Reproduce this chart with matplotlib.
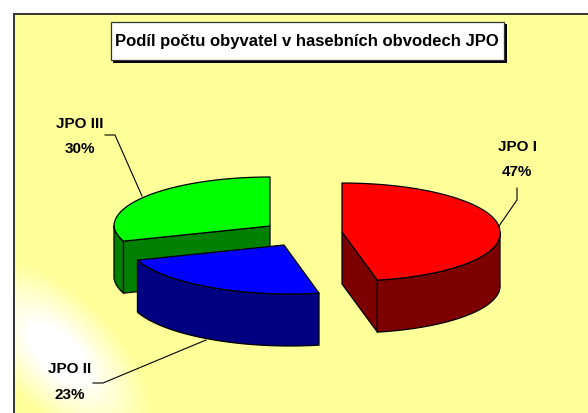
import matplotlib
matplotlib.use('Agg')
import matplotlib.pyplot as plt
import numpy as np
from matplotlib.patches import Polygon, Rectangle

plt.rcParams['font.family'] = ['Liberation Sans', 'DejaVu Sans']

# data
names = ['JPO I', 'JPO II', 'JPO III']
shares = [47, 23, 30]
title = 'Podíl počtu obyvatel v hasebních obvodech JPO'

top_colors = {'JPO I': '#ff0000', 'JPO II': '#0000ff', 'JPO III': '#00ff00'}
wall_colors = {'JPO I': '#7c0000', 'JPO II': '#000080', 'JPO III': '#008000'}
centers = {'JPO I': (342, 233), 'JPO II': (284, 246), 'JPO III': (270, 227)}
radius_x = {'JPO I': 158, 'JPO II': 156, 'JPO III': 156}
radius_y = 49
depth = 52
shear = 0.12

W, H = 588, 414
fig = plt.figure(figsize=(W / 100, H / 100), dpi=100)
ax = fig.add_axes([0, 0, 1, 1])
ax.set_xlim(0, W)
ax.set_ylim(H, 0)
ax.axis('off')

# background with the white diagonal glow bottom left
yy, xx = np.mgrid[0:H, 0:W]
along = ((xx - 58) + (yy - 354)) / np.sqrt(2)
across = ((xx - 58) - (yy - 354)) / np.sqrt(2)
dist = np.sqrt((along / 82) ** 2 + (across / 40) ** 2)
glow = np.clip(1.45 - dist, 0, 1)
bg = np.ones((H, W, 3))
bg[..., 2] = 0.6 + 0.4 * glow
ax.imshow(bg, extent=(0, W, H, 0), aspect='auto', zorder=0)
ax.add_patch(Rectangle((0, 0), W, 14, fc='white', ec='none', zorder=1))
ax.add_patch(Rectangle((0, 0), 14, H, fc='white', ec='none', zorder=1))
ax.plot([13.5, 13.5, W], [H, 14.5, 14.5], color='#333333', lw=1.4, zorder=2, solid_joinstyle='miter')


def rim(name, a1, a2):
    cx, cy = centers[name]
    t = np.radians(np.linspace(a1, a2, 60))
    dx = radius_x[name] * np.cos(t)
    dy = -radius_y * np.sin(t)
    return np.column_stack([cx + dx + shear * np.maximum(dy, 0), cy + dy])


def face(pts, color, z):
    ax.add_patch(Polygon(pts, closed=True, fc=color, ec='black', lw=0.9, zorder=z, joinstyle='round'))


# slice angles, clockwise from 12 o'clock
spans = {}
angle = 90
for n, s in zip(names, shares):
    spans[n] = (angle, angle - s * 3.6)
    angle -= s * 3.6

# JPO III, at the back
n = 'JPO III'
start, end = spans[n]
c = np.array(centers[n], float)
edge = rim(n, start + 360, end + 360)
corner = edge[0]
face([c, corner, corner + [0, depth], c + [0, depth]], wall_colors[n], 3)
left = rim(n, 180, start + 360)
face(np.vstack([left, (left + [0, depth])[::-1]]), wall_colors[n], 3)
face(np.vstack([c, edge]), top_colors[n], 4)

# JPO I
n = 'JPO I'
start, end = spans[n]
c = np.array(centers[n], float)
edge = rim(n, start, end)
corner = edge[-1]
face([c, corner, corner + [0, depth], c + [0, depth]], wall_colors[n], 5)
low = rim(n, end, 0)
face(np.vstack([low, (low + [0, depth])[::-1]]), wall_colors[n], 5)
face(np.vstack([c, edge]), top_colors[n], 6)

# JPO II, in front
n = 'JPO II'
start, end = spans[n]
c = np.array(centers[n], float)
edge = rim(n, start, end)
face(np.vstack([edge, (edge + [0, depth])[::-1]]), wall_colors[n], 7)
face(np.vstack([c, edge]), top_colors[n], 8)

# leader lines
ax.plot([105, 115, 142], [136, 136, 197], color='black', lw=0.8, zorder=9)
ax.plot([517, 517, 499], [189, 201, 227], color='black', lw=0.8, zorder=9)
ax.plot([93, 103, 206], [384, 384, 341], color='black', lw=0.8, zorder=9)

label_pos = {'JPO I': (517, 147, 172), 'JPO II': (70, 369, 395), 'JPO III': (80, 124, 149)}
for n, s in zip(names, shares):
    x, y1, y2 = label_pos[n]
    ax.text(x, y1, n, ha='center', va='center', fontsize=11, fontweight='bold', zorder=10)
    ax.text(x, y2, '%d%%' % s, ha='center', va='center', fontsize=11, fontweight='bold', zorder=10)

# title box with shadow
ax.add_patch(Rectangle((113, 25), 394, 39, fc='black', ec='black', lw=0, zorder=10))
ax.add_patch(Rectangle((110.5, 22.5), 393, 38.5, fc='white', ec='#333333', lw=0.9, zorder=11))
ax.text(307, 41.5, title, ha='center', va='center', fontsize=12, fontweight='bold', zorder=12)

fig.savefig('out.png', dpi=100)
